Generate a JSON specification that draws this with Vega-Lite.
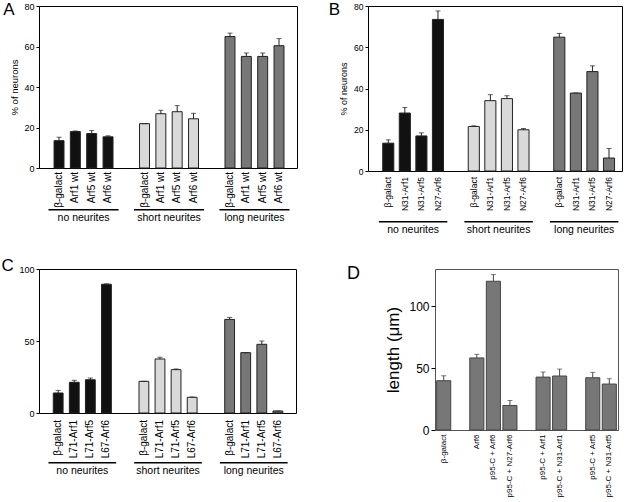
{
  "$schema": "https://vega.github.io/schema/vega-lite/v6.json",
  "padding": {"left": 0, "top": 0, "right": 0, "bottom": 0},
  "background": "white",
  "config": {
    "font": "Liberation Sans",
    "view": {"stroke": "#000", "strokeWidth": 1},
    "axis": {"labelColor": "#000", "titleColor": "#000", "tickColor": "#000", "titleFontWeight": "normal", "grid": false, "domain": false}
  },
  "datasets": {
    "A": [
      {"group": "no neurites", "item": "β-galact", "value": 13.5, "hi": 15.2},
      {"group": "no neurites", "item": "Arf1 wt", "value": 18.0, "hi": 18.3},
      {"group": "no neurites", "item": "Arf5 wt", "value": 17.0, "hi": 18.5},
      {"group": "no neurites", "item": "Arf6 wt", "value": 15.4, "hi": 15.9},
      {"group": "short neurites", "item": "β-galact", "value": 21.9, "hi": 21.9},
      {"group": "short neurites", "item": "Arf1 wt", "value": 26.8, "hi": 28.5},
      {"group": "short neurites", "item": "Arf5 wt", "value": 27.8, "hi": 30.8},
      {"group": "short neurites", "item": "Arf6 wt", "value": 24.3, "hi": 27.0},
      {"group": "long neurites", "item": "β-galact", "value": 64.9, "hi": 66.6},
      {"group": "long neurites", "item": "Arf1 wt", "value": 55.1, "hi": 56.8},
      {"group": "long neurites", "item": "Arf5 wt", "value": 55.1, "hi": 56.8},
      {"group": "long neurites", "item": "Arf6 wt", "value": 60.4, "hi": 63.9}
    ],
    "B": [
      {"group": "no neurites", "item": "β-galact", "value": 13.5, "hi": 15.1},
      {"group": "no neurites", "item": "N31-Arf1", "value": 28.1, "hi": 30.8},
      {"group": "no neurites", "item": "N31-Arf5", "value": 17.0, "hi": 18.5},
      {"group": "no neurites", "item": "N27-Arf6", "value": 73.5, "hi": 77.6},
      {"group": "short neurites", "item": "β-galact", "value": 21.6, "hi": 21.9},
      {"group": "short neurites", "item": "N31-Arf1", "value": 34.1, "hi": 37.0},
      {"group": "short neurites", "item": "N31-Arf5", "value": 35.1, "hi": 36.5},
      {"group": "short neurites", "item": "N27-Arf6", "value": 20.0, "hi": 20.6},
      {"group": "long neurites", "item": "β-galact", "value": 64.9, "hi": 66.7},
      {"group": "long neurites", "item": "N31-Arf1", "value": 37.8, "hi": 37.8},
      {"group": "long neurites", "item": "N31-Arf5", "value": 48.2, "hi": 51.0},
      {"group": "long neurites", "item": "N27-Arf6", "value": 6.3, "hi": 10.9}
    ],
    "C": [
      {"group": "no neurites", "item": "β-galact", "value": 13.9, "hi": 15.7},
      {"group": "no neurites", "item": "L71-Arf1", "value": 21.3, "hi": 22.7},
      {"group": "no neurites", "item": "L71-Arf5", "value": 23.1, "hi": 24.3},
      {"group": "no neurites", "item": "L67-Arf6", "value": 89.4, "hi": 89.7},
      {"group": "short neurites", "item": "β-galact", "value": 22.0, "hi": 22.0},
      {"group": "short neurites", "item": "L71-Arf1", "value": 37.5, "hi": 38.7},
      {"group": "short neurites", "item": "L71-Arf5", "value": 30.1, "hi": 30.6},
      {"group": "short neurites", "item": "L67-Arf6", "value": 10.9, "hi": 11.1},
      {"group": "long neurites", "item": "β-galact", "value": 65.0, "hi": 66.4},
      {"group": "long neurites", "item": "L71-Arf1", "value": 41.9, "hi": 41.9},
      {"group": "long neurites", "item": "L71-Arf5", "value": 47.7, "hi": 50.0},
      {"group": "long neurites", "item": "L67-Arf6", "value": 1.4, "hi": 1.4}
    ],
    "D": [
      {"item": "β-galact", "value": 39.8, "hi": 43.8},
      {"item": "Arf6", "value": 58.2, "hi": 61.1},
      {"item": "p95-C + Arf6", "value": 120.1, "hi": 125.5},
      {"item": "p95-C + N27-Arf6", "value": 19.8, "hi": 23.8},
      {"item": "p95-C + Arf1", "value": 42.7, "hi": 46.8},
      {"item": "p95-C + N31-Arf1", "value": 43.6, "hi": 49.2},
      {"item": "p95-C + Arf5", "value": 42.2, "hi": 46.5},
      {"item": "p95-C + N31-Arf5", "value": 37.1, "hi": 41.4}
    ]
  },
  "spacing": 21,
  "resolve": {"scale": {"xOffset": "independent", "x": "independent", "y": "independent", "color": "independent"}},
  "vconcat": [
    {
      "spacing": 30,
      "resolve": {"scale": {"xOffset": "independent", "x": "independent", "y": "independent", "color": "independent"}},
      "hconcat": [
        {
          "width": 258, "height": 162,
          "title": {"text": "A", "orient": "left", "anchor": "end", "angle": 0, "align": "right", "baseline": "top", "fontSize": 17, "fontWeight": "normal", "offset": -7, "dx": 9, "dy": 0, "color": "#000"},
          "data": {"name": "A"},
          "encoding": {
            "x": {"field": "group", "type": "nominal", "sort": ["no neurites", "short neurites", "long neurites"],
                  "scale": {"paddingInner": 0.18, "paddingOuter": 0.099, "align": 0.56},
                  "axis": {"title": null, "ticks": false, "labelAngle": 0, "labelPadding": 44, "labelFontSize": 10.5, "labelBaseline": "top"}}
          },
          "layer": [
            {"mark": {"type": "bar", "stroke": "#222", "strokeWidth": 1},
             "encoding": {
               "xOffset": {"field": "item", "type": "nominal", "sort": ["β-galact", "Arf1 wt", "Arf5 wt", "Arf6 wt"], "scale": {"domain": ["β-galact", "Arf1 wt", "Arf5 wt", "Arf6 wt"], "paddingInner": 0.39, "paddingOuter": 0.34}},
               "y": {"field": "value", "type": "quantitative", "scale": {"domain": [0, 80], "nice": false},
                     "axis": {"title": "% of neurons", "values": [0, 20, 40, 60, 80], "tickSize": 3, "labelFontSize": 9, "labelPadding": 2, "titleFontSize": 9.5, "titlePadding": 4}},
               "color": {"field": "group", "type": "nominal", "scale": {"domain": ["no neurites", "short neurites", "long neurites"], "range": ["#111111", "#d9d9d9", "#777777"]}, "legend": null}
             }},
            {"mark": {"type": "rule", "color": "#222", "strokeWidth": 1},
             "encoding": {"xOffset": {"field": "item", "type": "nominal", "sort": ["β-galact", "Arf1 wt", "Arf5 wt", "Arf6 wt"]}, "y": {"field": "value", "type": "quantitative"}, "y2": {"field": "hi"}}},
            {"mark": {"type": "tick", "orient": "horizontal", "size": 5, "thickness": 1, "color": "#222"},
             "encoding": {"xOffset": {"field": "item", "type": "nominal", "sort": ["β-galact", "Arf1 wt", "Arf5 wt", "Arf6 wt"]}, "y": {"field": "hi", "type": "quantitative"}}},
            {"mark": {"type": "text", "angle": 270, "align": "right", "baseline": "middle", "fontSize": 10, "yOffset": 4, "color": "#000"},
             "encoding": {"xOffset": {"field": "item", "type": "nominal", "sort": ["β-galact", "Arf1 wt", "Arf5 wt", "Arf6 wt"]}, "y": {"datum": 0}, "text": {"field": "item"}}},
            {"transform": [{"filter": "datum.item == 'β-galact'"}],
             "mark": {"type": "rect", "color": "#000", "yOffset": 41, "y2Offset": 42.5},
             "encoding": {"y": {"datum": 0}, "y2": {"datum": 0}}}
          ]
        },
        {
          "width": 254, "height": 165,
          "title": {"text": "B", "orient": "left", "anchor": "end", "angle": 0, "align": "right", "baseline": "top", "fontSize": 17, "fontWeight": "normal", "offset": 3, "dx": 15, "dy": 0, "color": "#000"},
          "data": {"name": "B"},
          "encoding": {
            "x": {"field": "group", "type": "nominal", "sort": ["no neurites", "short neurites", "long neurites"],
                  "scale": {"paddingInner": 0.2, "paddingOuter": 0.085, "align": 0.75},
                  "axis": {"title": null, "ticks": false, "labelAngle": 0, "labelPadding": 53, "labelFontSize": 10.5, "labelBaseline": "top"}}
          },
          "layer": [
            {"mark": {"type": "bar", "stroke": "#222", "strokeWidth": 1},
             "encoding": {
               "xOffset": {"field": "item", "type": "nominal", "sort": ["β-galact", "N31-Arf1", "N31-Arf5", "N27-Arf6"], "scale": {"domain": ["β-galact", "N31-Arf1", "N31-Arf5", "N27-Arf6"], "paddingInner": 0.33, "paddingOuter": 0.23}},
               "y": {"field": "value", "type": "quantitative", "scale": {"domain": [0, 80], "nice": false},
                     "axis": {"title": "% of neurons", "values": [0, 20, 40, 60, 80], "tickSize": 3, "labelFontSize": 8.5, "labelPadding": 2, "titleFontSize": 9, "titlePadding": 5}},
               "color": {"field": "group", "type": "nominal", "scale": {"domain": ["no neurites", "short neurites", "long neurites"], "range": ["#111111", "#d9d9d9", "#777777"]}, "legend": null}
             }},
            {"mark": {"type": "rule", "color": "#222", "strokeWidth": 1},
             "encoding": {"xOffset": {"field": "item", "type": "nominal", "sort": ["β-galact", "N31-Arf1", "N31-Arf5", "N27-Arf6"]}, "y": {"field": "value", "type": "quantitative"}, "y2": {"field": "hi"}}},
            {"mark": {"type": "tick", "orient": "horizontal", "size": 5, "thickness": 1, "color": "#222"},
             "encoding": {"xOffset": {"field": "item", "type": "nominal", "sort": ["β-galact", "N31-Arf1", "N31-Arf5", "N27-Arf6"]}, "y": {"field": "hi", "type": "quantitative"}}},
            {"mark": {"type": "text", "angle": 270, "align": "right", "baseline": "middle", "fontSize": 8.5, "yOffset": 6, "color": "#000"},
             "encoding": {"xOffset": {"field": "item", "type": "nominal", "sort": ["β-galact", "N31-Arf1", "N31-Arf5", "N27-Arf6"]}, "y": {"datum": 0}, "text": {"field": "item"}}},
            {"transform": [{"filter": "datum.item == 'β-galact'"}],
             "mark": {"type": "rect", "color": "#000", "yOffset": 50, "y2Offset": 51.5},
             "encoding": {"y": {"datum": 0}, "y2": {"datum": 0}}}
          ]
        }
      ]
    },
    {
      "spacing": 49,
      "resolve": {"scale": {"xOffset": "independent", "x": "independent", "y": "independent", "color": "independent"}},
      "hconcat": [
        {
          "width": 257, "height": 144,
          "title": {"text": "C", "orient": "left", "anchor": "end", "angle": 0, "align": "right", "baseline": "top", "fontSize": 17, "fontWeight": "normal", "offset": 2, "dx": 9, "dy": -7, "color": "#000"},
          "data": {"name": "C"},
          "encoding": {
            "x": {"field": "group", "type": "nominal", "sort": ["no neurites", "short neurites", "long neurites"],
                  "scale": {"paddingInner": 0.21, "paddingOuter": 0.104, "align": 0.53},
                  "axis": {"title": null, "ticks": false, "labelAngle": 0, "labelPadding": 52, "labelFontSize": 10.5, "labelBaseline": "top"}}
          },
          "layer": [
            {"mark": {"type": "bar", "stroke": "#222", "strokeWidth": 1},
             "encoding": {
               "xOffset": {"field": "item", "type": "nominal", "sort": ["β-galact", "L71-Arf1", "L71-Arf5", "L67-Arf6"], "scale": {"domain": ["β-galact", "L71-Arf1", "L71-Arf5", "L67-Arf6"], "paddingInner": 0.39, "paddingOuter": 0.3}},
               "y": {"field": "value", "type": "quantitative", "scale": {"domain": [0, 100], "nice": false},
                     "axis": {"title": null, "values": [0, 25, 50, 75, 100], "tickSize": 3, "labelFontSize": 9, "labelPadding": 2}},
               "color": {"field": "group", "type": "nominal", "scale": {"domain": ["no neurites", "short neurites", "long neurites"], "range": ["#111111", "#d9d9d9", "#777777"]}, "legend": null}
             }},
            {"mark": {"type": "rule", "color": "#222", "strokeWidth": 1},
             "encoding": {"xOffset": {"field": "item", "type": "nominal", "sort": ["β-galact", "L71-Arf1", "L71-Arf5", "L67-Arf6"]}, "y": {"field": "value", "type": "quantitative"}, "y2": {"field": "hi"}}},
            {"mark": {"type": "tick", "orient": "horizontal", "size": 5, "thickness": 1, "color": "#222"},
             "encoding": {"xOffset": {"field": "item", "type": "nominal", "sort": ["β-galact", "L71-Arf1", "L71-Arf5", "L67-Arf6"]}, "y": {"field": "hi", "type": "quantitative"}}},
            {"mark": {"type": "text", "angle": 270, "align": "right", "baseline": "middle", "fontSize": 10, "yOffset": 7, "color": "#000"},
             "encoding": {"xOffset": {"field": "item", "type": "nominal", "sort": ["β-galact", "L71-Arf1", "L71-Arf5", "L67-Arf6"]}, "y": {"datum": 0}, "text": {"field": "item"}}},
            {"transform": [{"filter": "datum.item == 'β-galact'"}],
             "mark": {"type": "rect", "color": "#000", "yOffset": 49, "y2Offset": 50.5},
             "encoding": {"y": {"datum": 0}, "y2": {"datum": 0}}}
          ]
        },
        {
          "width": 183, "height": 161,
          "view": {"stroke": "#555"},
          "title": {"text": "D", "orient": "left", "anchor": "end", "angle": 0, "align": "right", "baseline": "top", "fontSize": 18, "fontWeight": "normal", "offset": 23, "dx": 11, "dy": -4, "color": "#000"},
          "data": {"name": "D"},
          "encoding": {
            "x": {"field": "item", "type": "nominal",
                  "scale": {"domain": ["β-galact", " ", "Arf6", "p95-C + Arf6", "p95-C + N27-Arf6", "  ", "p95-C + Arf1", "p95-C + N31-Arf1", "   ", "p95-C + Arf5", "p95-C + N31-Arf5"], "paddingInner": 0.15, "paddingOuter": 0.1},
                  "axis": {"title": null, "ticks": false, "labelAngle": -90, "labelPadding": 4, "labelFontSize": 8}}
          },
          "layer": [
            {"mark": {"type": "bar", "color": "#777777", "stroke": "#444", "strokeWidth": 1},
             "encoding": {
               "y": {"field": "value", "type": "quantitative", "scale": {"domain": [0, 130], "nice": false},
                     "axis": {"title": "length (μm)", "values": [0, 25, 50, 75, 100, 125], "tickSize": 4, "labelFontSize": 12, "labelPadding": 2, "titleFontSize": 17, "titlePadding": 6}}
             }},
            {"mark": {"type": "rule", "color": "#444", "strokeWidth": 1},
             "encoding": {"y": {"field": "value", "type": "quantitative"}, "y2": {"field": "hi"}}},
            {"mark": {"type": "tick", "orient": "horizontal", "size": 5, "thickness": 1, "color": "#444"},
             "encoding": {"y": {"field": "hi", "type": "quantitative"}}}
          ]
        }
      ]
    }
  ]
}
